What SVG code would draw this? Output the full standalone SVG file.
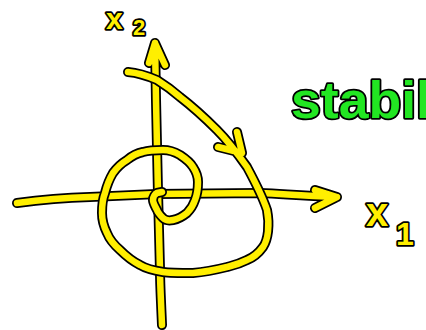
<svg xmlns="http://www.w3.org/2000/svg" xmlns:xlink="http://www.w3.org/1999/xlink" width="426" height="330" viewBox="0 0 426 330">
<style>
.o{fill:none;stroke:#000;stroke-width:10;stroke-linecap:round;stroke-linejoin:round}
.y{fill:none;stroke:#ffef00;stroke-width:6.5;stroke-linecap:round;stroke-linejoin:round}
.lbl{font-family:"Liberation Sans",Arial,sans-serif;font-weight:bold;fill:#ffef00;stroke:#000;stroke-width:3.5;paint-order:stroke;stroke-linejoin:round}
.st{font-family:"Liberation Sans",Arial,sans-serif;font-weight:bold;fill:#22e622;stroke:#000;stroke-width:3.5;paint-order:stroke;stroke-linejoin:round}
</style>
<defs>
<path id="hx" d="M17,203 C40,200 60,198 90,197 L157,194 L260,193 C285,194 300,196 337,197 M315,190 L337,197 L315,208"/>
<path id="vx" d="M162,325 C161,300 160,285 160,270 L158,193 L156,100 L155,43 M149,63 L155,43 L165,65"/>
<path id="sp" d="M128,72 C140,73 150,77 157,80 C165,85 172,90 180,97 C193,107 205,118 217,130 C227,140 235,150 247,167 C254,180 262,195 267,210 C270,225 268,240 263,247 C258,254 252,258 247,260 C237,265 230,266 227,267 C215,270 205,272 193,273 C180,273 170,273 163,272 C150,270 145,268 140,265 C130,260 125,255 120,250 C112,243 109,238 107,233 C103,225 102,218 102,213 C102,203 103,198 105,193 C107,185 110,178 113,173 C118,166 122,163 127,160 C133,155 138,153 143,152 C150,150 156,150 163,150 C170,150 175,152 180,155 C186,159 190,162 193,167 C197,173 198,177 198,182 C198,190 197,195 195,200 C193,206 190,210 187,213 C182,217 178,219 173,220 C168,221 165,220 163,218 C160,215 158,213 157,210 C155,206 153,203 153,200 C153,197 155,194 157,193 L162,192 M218,147 L242,153 L237,132"/>
</defs>
<g id="axis-x1">
<use href="#hx" class="o"/><use href="#hx" class="y"/>
</g>
<g id="axis-x2">
<use href="#vx" class="o"/><use href="#vx" class="y"/>
</g>
<g id="connectors">
<g id="trajectory"><use href="#sp" class="o"/><use href="#sp" class="y"/></g>
</g>
<g id="label-x2"><text class="lbl" x="106" y="29" font-size="30">x<tspan x="133" y="35" font-size="22">2</tspan></text></g>
<g id="label-x1"><text class="lbl" x="366" y="226" font-size="40">x<tspan x="396" y="245" font-size="32">1</tspan></text></g>
<g id="label-stabil"><text class="st" x="291" y="118" font-size="52" textLength="140" lengthAdjust="spacingAndGlyphs">stabil</text></g>
</svg>
